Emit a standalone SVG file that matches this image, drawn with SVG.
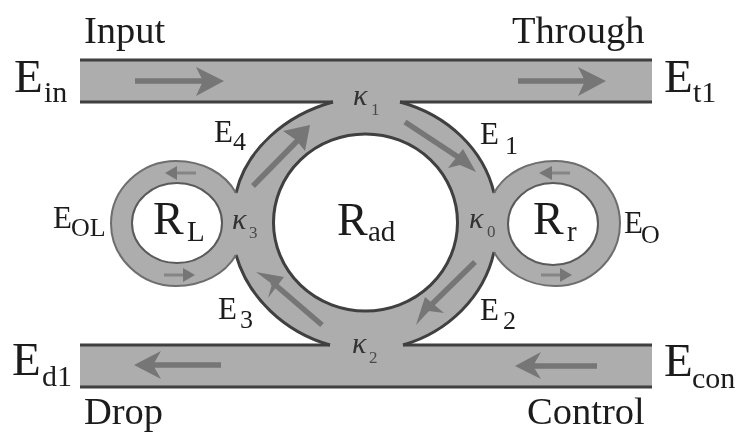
<svg xmlns="http://www.w3.org/2000/svg" width="738" height="432" viewBox="0 0 738 432">
<style>
text{font-family:"Liberation Serif","Times New Roman",serif;fill:#1c1c1c}
.k{font-style:italic;font-size:30px;fill:#333}.ks{font-size:17px;fill:#4a4a4a}
.big{font-size:47px}.lab{font-size:38.500px}.sub{font-size:30px}
.m{font-size:31px}.ms{font-size:26px}.r{font-size:46px}.rs{font-size:29px}
.edge{fill:none;stroke:#3f3f3f;stroke-width:3}
.edge2{fill:none;stroke:#6e6e6e;stroke-width:2}
.a{fill:none;stroke:#767676;stroke-width:5.500}
.a2{fill:none;stroke:#858585;stroke-width:3}
.h{fill:#767676}
</style>
<defs><filter id="soft" x="-5%" y="-5%" width="110%" height="110%"><feGaussianBlur stdDeviation="0.6"/></filter></defs>
<g id="connectors" filter="url(#soft)">
<path fill="#adadad" d="M80 60H652V102H400C448 115 484 150 494 193C505 173 528 161 555 161C591 161 620 189 620 223.500C620 258 591 286 555 286C528 286 505 272 494 252C484 297 448 332 403 345H652V387H80V345H330C284 332 248 297 236 255C225 274 202 286 176 286C141 286 111 258 111 223.500C111 189 141 161 176 161C202 161 225 173 236 193C246 150 285 115 333 102H80Z"/>
<path class="edge" d="M80 60H652M80 102H333M400 102H652M80 345H330M403 345H652M80 387H652"/>
<path class="edge" d="M333 102C285 115 246 150 236 193M400 102C448 115 484 150 494 193M494 252C484 297 448 332 403 345M330 345C284 332 248 297 236 255"/>
<path class="edge2" d="M236 193C225 173 202 161 176 161C141 161 111 189 111 223.500C111 258 141 286 176 286C202 286 225 274 236 255M494 193C505 173 528 161 555 161C591 161 620 189 620 223.500C620 258 591 286 555 286C528 286 505 272 494 252"/>
<path class="a" d="M135 81H205"/><path class="h" d="M196 67L224 81L196 96L203 81Z"/>
<path class="a" d="M518 81H588"/><path class="h" d="M578 67L606 81L578 96L585 81Z"/>
<path class="a" d="M597 366H530"/><path class="h" d="M541 352L515 366L541 379L533 366Z"/>
<path class="a" d="M221 365H150"/><path class="h" d="M161 351L134 365L161 379L153 365Z"/>
<path class="a" d="M253 186L302 136"/><path class="h" d="M283 131L310 125L305 151L296 140Z"/>
<path class="a" d="M405 122L458 157"/><path class="h" d="M476 172L463 149L448 168L460 165Z"/>
<path class="a" d="M475 262L426 310"/><path class="h" d="M416 325L425 297L444 313L429 311Z"/>
<path class="a" d="M322 325L272 282"/><path class="h" d="M256 272L284 277L268 298L272 284Z"/>
<path class="a2" d="M196 173H172"/><path class="h" d="M177 166L165 173L177 180Z"/>
<path class="a2" d="M570 173H546"/><path class="h" d="M552 166L539 173L552 180Z"/>
<path class="a2" d="M164 275H188"/><path class="h" d="M183 268L195 275L183 282Z"/>
<path class="a2" d="M541 275H565"/><path class="h" d="M560 268L572 275L560 282Z"/>
</g>
<g id="node-rad"><ellipse cx="365.500" cy="222.500" rx="92" ry="88.500" fill="#fff" stroke="#3f3f3f" stroke-width="3" filter="url(#soft)"/>
<g filter="url(#soft)"><text x="337" y="235" class="r">R</text><text x="368" y="241" class="rs">ad</text></g></g>
<g id="node-rl"><ellipse cx="177" cy="223" rx="45" ry="40" fill="#fff" stroke="#5a5a5a" stroke-width="2" filter="url(#soft)"/>
<g filter="url(#soft)"><text x="153" y="234" class="r">R</text><text x="187" y="241" class="rs">L</text></g></g>
<g id="node-rr"><ellipse cx="553" cy="224" rx="45" ry="41" fill="#fff" stroke="#5a5a5a" stroke-width="2" filter="url(#soft)"/>
<g filter="url(#soft)"><text x="533" y="234" class="r">R</text><text x="567" y="241" class="rs">r</text></g></g>
<g id="labels" filter="url(#soft)">
<text x="84" y="43" class="lab">Input</text><text x="512" y="43" class="lab">Through</text>
<text x="84" y="424" class="lab">Drop</text><text x="527" y="424" class="lab">Control</text>
<text x="14" y="92" class="big">E</text><text x="44" y="102" class="sub">in</text>
<text x="664" y="92" class="big">E</text><text x="693" y="102" class="sub">t1</text>
<text x="12" y="375" class="big">E</text><text x="42" y="386" class="sub">d1</text>
<text x="664" y="376" class="big">E</text><text x="692" y="388" class="sub">con</text>
<text x="214" y="142" class="m">E</text><text x="233" y="150" class="ms">4</text>
<text x="480" y="144" class="m">E</text><text x="505" y="154" class="ms">1</text>
<text x="218" y="319" class="m">E</text><text x="240" y="328" class="ms">3</text>
<text x="480" y="320" class="m">E</text><text x="503" y="329" class="ms">2</text>
<text x="53" y="228" class="m">E</text><text x="71" y="236" class="ms">OL</text>
<text x="624" y="233" class="m">E</text><text x="641" y="243" class="ms">O</text>
<text x="353" y="105" class="k">κ</text><text x="371" y="115" class="ks">1</text>
<text x="352" y="353" class="k">κ</text><text x="369" y="363" class="ks">2</text>
<text x="232" y="229" class="k">κ</text><text x="249" y="238" class="ks">3</text>
<text x="469" y="228" class="k">κ</text><text x="487" y="237" class="ks">0</text>
</g>
</svg>
